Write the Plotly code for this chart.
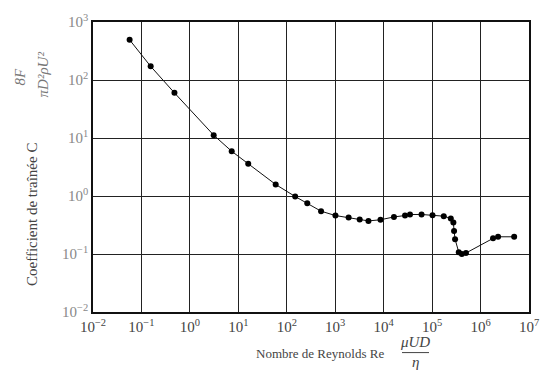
import plotly.graph_objects as go

# Reynolds number and drag coefficient
reynolds = [0.057, 0.155, 0.48, 3.1, 7.3, 16, 59, 149, 265, 510, 1010, 1890, 3200, 4850,
            8600, 16300, 27600, 35000, 60500, 102000, 174000, 243000, 275000, 284000,
            298000, 355000, 410000, 500000, 1.81e6, 2.3e6, 4.94e6]
drag_coef = [492, 172, 60, 11.2, 5.9, 3.6, 1.58, 0.98, 0.75, 0.547, 0.46, 0.426, 0.394, 0.372,
             0.389, 0.436, 0.46, 0.48, 0.48, 0.467, 0.449, 0.41, 0.35, 0.25,
             0.18, 0.107, 0.10, 0.104, 0.186, 0.198, 0.198]

x_tick_vals = [1e-2, 1e-1, 1e0, 1e1, 1e2, 1e3, 1e4, 1e5, 1e6, 1e7]
x_tick_text = ["10<sup>−2</sup>", "10<sup>−1</sup>", "10<sup>0</sup>", "10<sup>1</sup>",
               "10<sup>2</sup>", "10<sup>3</sup>", "10<sup>4</sup>", "10<sup>5</sup>",
               "10<sup>6</sup>", "10<sup>7</sup>"]
y_tick_vals = [1e-2, 1e-1, 1e0, 1e1, 1e2, 1e3]
y_tick_text = ["10<sup>−2</sup>", "10<sup>−1</sup>", "10<sup>0</sup>", "10<sup>1</sup>",
               "10<sup>2</sup>", "10<sup>3</sup>"]

serif = "Liberation Serif, DejaVu Serif, serif"

fig = go.Figure()
fig.add_trace(go.Scatter(
    x=reynolds, y=drag_coef, mode="lines+markers",
    line=dict(color="#111", width=1),
    marker=dict(color="#000", size=6, symbol="circle"),
    showlegend=False,
))

fig.update_xaxes(
    type="log", range=[-2, 7],
    tickvals=x_tick_vals, ticktext=x_tick_text,
    showgrid=True, gridcolor="#222", gridwidth=1.4,
    showline=True, linecolor="#111", linewidth=1.6, mirror=True,
    ticks="", zeroline=False,
    tickfont=dict(family=serif, size=15, color="#444"),
)
fig.update_yaxes(
    type="log", range=[-2, 3],
    tickvals=y_tick_vals, ticktext=y_tick_text,
    showgrid=True, gridcolor="#222", gridwidth=1.4,
    showline=True, linecolor="#111", linewidth=1.6, mirror=True,
    ticks="", zeroline=False,
    tickfont=dict(family=serif, size=15, color="#888"),
)

fig.update_layout(
    width=552, height=372,
    margin=dict(l=93, r=23, t=19, b=60),
    paper_bgcolor="white", plot_bgcolor="white",
    font=dict(family=serif, color="#333"),
    annotations=[
        dict(text="Coefficient de traînée C", x=32, y=214, showarrow=False, textangle=-90,
             font=dict(size=15, color="#444")),
        dict(text="Nombre de Reynolds Re", x=320, y=354, showarrow=False,
             font=dict(size=13, color="#444")),
        dict(text="<i>μUD</i>", x=415, y=342, showarrow=False, font=dict(size=15, color="#444")),
        dict(text="<i>η</i>", x=415, y=363, showarrow=False, font=dict(size=15, color="#444")),
        dict(text="<i>8F</i>", x=20, y=74, showarrow=False, textangle=-90,
             font=dict(size=15, color="#777")),
        dict(text="<i>πD²ρU²</i>", x=43, y=72, showarrow=False, textangle=-90,
             font=dict(size=15, color="#777")),
    ],
)

# annotations given in pixel coordinates: convert to paper fractions
W, H = 552, 372
L, R, T, B = 93, 23, 19, 60
pw, ph = W - L - R, H - T - B
new_ann = []
for a in fig.layout.annotations:
    px, py = a.x, a.y
    a.update(xref="paper", yref="paper", x=(px - L) / pw, y=1 - (py - T) / ph,
             xanchor="center", yanchor="middle")
    new_ann.append(a)
fig.layout.annotations = new_ann

fig.add_shape(type="line", xref="paper", yref="paper",
              x0=(402 - L) / pw, x1=(429 - L) / pw,
              y0=1 - (353 - T) / ph, y1=1 - (353 - T) / ph,
              line=dict(color="#444", width=1))

fig.write_html("out.html")
